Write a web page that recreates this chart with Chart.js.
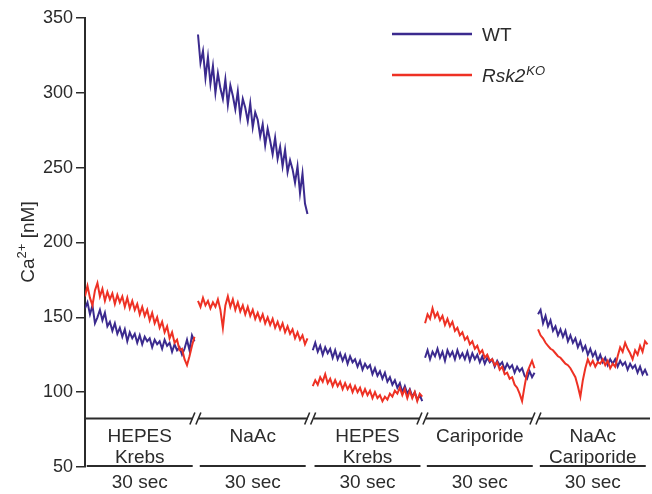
<!DOCTYPE html>
<html lang="en">
<head>
    <meta charset="UTF-8">
    <title>Ca2+ traces</title>
    <script src="https://cdn.jsdelivr.net/npm/chart.js"></script>
    <style>
        body { margin: 0; background: #fff; }
        #wrap { width: 652px; height: 494px; }
    </style>
</head>
<body>
    <div id="wrap"><canvas id="chartCa"></canvas></div>

    <script>
        // segment names and start time (sec) of each 30 sec recording
        const segLabels = [['HEPES', 'Krebs'], ['NaAc'], ['HEPES', 'Krebs'], ['Cariporide'], ['NaAc', 'Cariporide']];
        const segStart = [0, 32, 64.5, 96.3, 128.3];
        const segLength = 31;
        const yTicks = [50, 100, 150, 200, 250, 300, 350];

        // WT traces, one per segment
        const wt1 = [156,160,152,158,146,150,155,148,153,144,147,141,146,139,143,137,142,134,140,136,139,133,138,132,137,134,136,130,135,132,134,129,135,131,133,127,132,128,130,125,129,135,128,138,134];
        const wt2 = [339,320,328,310,324,306,318,300,313,303,296,309,292,305,298,289,301,284,296,290,281,293,277,287,282,271,279,265,276,268,259,270,256,264,251,262,247,255,249,240,251,233,246,226,219];
        const wt3 = [128,133,127,131,125,130,126,129,123,128,122,126,121,125,119,124,120,122,117,121,115,119,116,118,112,116,111,114,109,113,107,110,105,108,103,106,100,104,99,102,97,100,95,98,94];
        const wt4 = [123,128,122,127,124,129,123,127,121,128,124,127,122,128,123,126,122,127,121,126,122,125,120,124,119,123,120,122,117,121,118,120,115,119,116,118,113,117,114,116,111,109,114,110,113];
        const wt5 = [152,155,146,151,144,148,141,144,138,142,137,141,134,138,133,136,130,134,128,131,125,129,124,127,121,125,120,123,118,122,119,122,117,121,118,120,115,119,116,118,113,117,112,115,111];

        // Rsk2 KO traces
        const ko1 = [164,171,163,158,168,173,164,169,161,167,162,166,159,165,160,164,157,163,156,161,155,159,152,157,151,155,148,153,146,150,143,147,140,144,136,140,133,135,128,129,122,118,124,131,137];
        const ko2 = [161,157,163,158,161,156,160,157,162,155,143,158,164,157,162,155,160,154,158,152,157,151,155,149,153,148,152,146,150,145,149,143,147,142,146,140,144,139,142,136,140,135,138,132,136];
        const ko3 = [104,108,105,110,107,112,106,109,104,108,104,107,102,106,102,105,100,104,100,103,98,102,98,101,96,100,96,98,94,97,95,99,97,101,99,103,98,102,96,101,96,100,94,99,97];
        const ko4 = [146,152,149,156,150,153,148,151,145,149,144,147,141,143,138,140,135,137,132,134,129,131,126,128,123,125,121,122,118,120,115,117,112,113,109,110,105,103,99,94,104,113,117,121,116];
        const ko5 = [142,138,136,133,131,129,128,126,124,123,121,119,118,116,113,110,104,97,108,116,122,118,121,117,120,119,122,118,121,116,119,117,124,130,127,133,129,126,122,128,125,131,127,134,132];

        const blue = '#3b2a8e';
        const red = '#ee3124';
        const ink = '#2b2b2b';
        const fontFamily = '"Liberation Sans", Arial, sans-serif';

        // join the segments, with a null between so the line breaks
        function buildSeries(segs) {
            const pts = [];
            segs.forEach((vals, i) => {
                const dt = segLength / (vals.length - 1);
                vals.forEach((v, j) => pts.push({ x: segStart[i] + j * dt, y: v }));
                pts.push({ x: segStart[i] + segLength + 0.2, y: null });
            });
            return pts;
        }

        const annotations = {
            id: 'annotations',
            afterDraw(chart) {
                const ctx = chart.ctx;
                const xs = chart.scales.x;
                const ys = chart.scales.y;
                const area = chart.chartArea;
                ctx.save();
                ctx.strokeStyle = ink;
                ctx.fillStyle = ink;

                // bar with the // breaks
                const lineY = Math.round(ys.getPixelForValue(83)) + 0.5;
                ctx.lineWidth = 2;
                ctx.beginPath();
                ctx.moveTo(area.left, lineY);
                ctx.lineTo(area.right, lineY);
                ctx.stroke();
                for (let i = 1; i < segStart.length; i++) {
                    const bx = xs.getPixelForValue(segStart[i] - 0.6);
                    ctx.fillStyle = '#fff';
                    ctx.fillRect(bx - 3, lineY - 2, 6, 4);
                    ctx.lineWidth = 1.6;
                    ctx.beginPath();
                    ctx.moveTo(bx - 6, lineY + 6);
                    ctx.lineTo(bx - 1, lineY - 6);
                    ctx.moveTo(bx, lineY + 6);
                    ctx.lineTo(bx + 5, lineY - 6);
                    ctx.stroke();
                }

                // segment names
                ctx.fillStyle = ink;
                ctx.font = '19px ' + fontFamily;
                ctx.textAlign = 'center';
                ctx.textBaseline = 'middle';
                segLabels.forEach((lines, i) => {
                    const cx = xs.getPixelForValue(segStart[i] + 15.5);
                    lines.forEach((t, k) => ctx.fillText(t, cx, lineY + 18 + k * 21));
                });

                // 30 sec scale bars
                ctx.lineWidth = 2;
                const barY = area.bottom - 1;
                segStart.forEach(s => {
                    ctx.beginPath();
                    ctx.moveTo(xs.getPixelForValue(s + 0.5), barY);
                    ctx.lineTo(xs.getPixelForValue(s + 30.5), barY);
                    ctx.stroke();
                });

                // legend
                const legend = [[blue, 34, 'WT'], [red, 75, 'Rsk2']];
                ctx.textAlign = 'left';
                ctx.textBaseline = 'alphabetic';
                legend.forEach(([c, ly, t]) => {
                    ctx.strokeStyle = c;
                    ctx.lineWidth = 2.5;
                    ctx.beginPath();
                    ctx.moveTo(392, ly);
                    ctx.lineTo(472, ly);
                    ctx.stroke();
                    ctx.fillStyle = ink;
                    if (t === 'WT') {
                        ctx.font = '19px ' + fontFamily;
                        ctx.fillText(t, 482, ly + 7);
                    } else {
                        ctx.font = 'italic 19px ' + fontFamily;
                        ctx.fillText(t, 482, ly + 7);
                        const w = ctx.measureText(t).width;
                        ctx.font = 'italic 13px ' + fontFamily;
                        ctx.fillText('KO', 482 + w + 1, ly);
                    }
                });

                // y axis title with superscript
                ctx.translate(27, 242);
                ctx.rotate(-Math.PI / 2);
                ctx.fillStyle = ink;
                const big = '19px ' + fontFamily;
                const small = '13px ' + fontFamily;
                ctx.font = big;
                const w1 = ctx.measureText('Ca').width;
                const w3 = ctx.measureText(' [nM]').width;
                ctx.font = small;
                const w2 = ctx.measureText('2+').width;
                let px = -(w1 + w2 + w3) / 2;
                ctx.font = big;
                ctx.fillText('Ca', px, 7);
                px += w1;
                ctx.font = small;
                ctx.fillText('2+', px, -1);
                px += w2;
                ctx.font = big;
                ctx.fillText(' [nM]', px, 7);
                ctx.restore();
            }
        };

        const ctx = document.getElementById('chartCa').getContext('2d');
        new Chart(ctx, {
            type: 'line',
            data: {
                datasets: [
                    {
                        label: 'Rsk2 KO',
                        data: buildSeries([ko1, ko2, ko3, ko4, ko5]),
                        borderColor: red,
                        borderWidth: 2,
                        pointRadius: 0,
                        tension: 0,
                        spanGaps: false
                    },
                    {
                        label: 'WT',
                        data: buildSeries([wt1, wt2, wt3, wt4, wt5]),
                        borderColor: blue,
                        borderWidth: 2,
                        pointRadius: 0,
                        tension: 0,
                        spanGaps: false
                    }
                ]
            },
            options: {
                responsive: true,
                maintainAspectRatio: false,
                animation: false,
                layout: { padding: { top: 18, right: 2, left: 0, bottom: 0 } },
                plugins: { legend: { display: false }, tooltip: { enabled: false } },
                scales: {
                    x: {
                        type: 'linear',
                        min: 0,
                        max: 160,
                        grid: { display: false },
                        border: { display: false },
                        afterBuildTicks: s => { s.ticks = segStart.map(v => ({ value: v + 15.5 })); },
                        afterFit: s => { s.height = 27; },
                        ticks: {
                            callback: () => '30 sec',
                            autoSkip: false,
                            maxRotation: 0,
                            padding: -4,
                            color: ink,
                            font: { size: 19, family: fontFamily }
                        }
                    },
                    y: {
                        min: 50,
                        max: 350,
                        afterBuildTicks: s => { s.ticks = yTicks.map(v => ({ value: v })); },
                        afterFit: s => { s.width = 85; },
                        grid: { drawOnChartArea: false, drawTicks: true, tickLength: 9, color: ink, lineWidth: 1.5 },
                        border: { color: ink, width: 2 },
                        ticks: {
                            padding: 3,
                            color: ink,
                            font: { size: 18, family: fontFamily }
                        }
                    }
                }
            },
            plugins: [annotations]
        });
    </script>
</body>
</html>
